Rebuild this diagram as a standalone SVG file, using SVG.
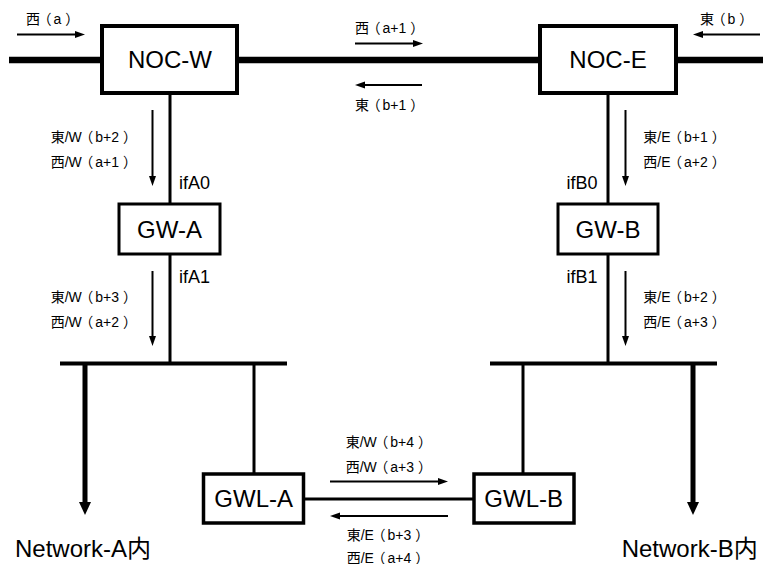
<svg xmlns="http://www.w3.org/2000/svg" width="763" height="564" viewBox="0 0 763 564">
  <style>
    .box { fill: #fff; stroke: #000; }
    .name { font-family: "Liberation Sans", Arial, sans-serif; font-size: 24px; text-anchor: middle; fill: #000; }
    .ifc { font-family: "Liberation Sans", Arial, sans-serif; font-size: 18px; fill: #000; }
    .lbl { font-family: "Liberation Sans", Arial, "Noto Sans CJK JP", sans-serif; font-size: 14px; fill: #000; }
    .net { font-family: "Liberation Sans", Arial, "Noto Sans CJK JP", sans-serif; font-size: 24px; fill: #000; }
    .wire { stroke: #000; fill: none; }
    .flow { stroke: #000; stroke-width: 2; fill: none; marker-end: url(#head); }
  </style>
  <defs>
    <marker id="head" markerUnits="userSpaceOnUse" markerWidth="10" markerHeight="8" refX="0" refY="3.5" orient="auto">
      <path d="M0,0 L10,3.5 L0,7 z" fill="#000"/>
    </marker>
    <marker id="bighead" markerUnits="userSpaceOnUse" markerWidth="13" markerHeight="12" refX="0" refY="6" orient="auto">
      <path d="M0,0 L13,6 L0,12 z" fill="#000"/>
    </marker>
  </defs>
  <rect width="763" height="564" fill="#fff"/>

  <g id="connectors">
    <!-- backbone -->
    <line class="wire" x1="9" y1="60" x2="763" y2="60" stroke-width="6.5"/>
    <!-- NOC to gateway to LAN verticals -->
    <line class="wire" x1="170" y1="93" x2="170" y2="363" stroke-width="3"/>
    <line class="wire" x1="608" y1="93" x2="608" y2="363" stroke-width="3"/>
    <!-- LAN buses -->
    <line class="wire" x1="60" y1="363.5" x2="287" y2="363.5" stroke-width="4"/>
    <line class="wire" x1="490" y1="363.5" x2="717" y2="363.5" stroke-width="4"/>
    <!-- drops to local gateways -->
    <line class="wire" x1="254" y1="363" x2="254" y2="474" stroke-width="3"/>
    <line class="wire" x1="523" y1="363" x2="523" y2="474" stroke-width="3"/>
    <!-- local gateway link -->
    <line class="wire" x1="305" y1="499" x2="474" y2="499" stroke-width="3"/>
    <!-- into the networks -->
    <line class="wire" x1="85" y1="363" x2="85" y2="502" stroke-width="5" marker-end="url(#bighead)"/>
    <line class="wire" x1="693" y1="363" x2="693" y2="502" stroke-width="5" marker-end="url(#bighead)"/>
    <!-- traffic direction arrows -->
    <line class="flow" x1="17" y1="34.5" x2="75" y2="34.5"/>
    <line class="flow" x1="760" y1="34.5" x2="703" y2="34.5"/>
    <line class="flow" x1="355" y1="43.5" x2="413" y2="43.5"/>
    <line class="flow" x1="422" y1="85" x2="365" y2="85"/>
    <line class="flow" x1="152.5" y1="110" x2="152.5" y2="176"/>
    <line class="flow" x1="152.5" y1="271" x2="152.5" y2="336"/>
    <line class="flow" x1="625.5" y1="110" x2="625.5" y2="176"/>
    <line class="flow" x1="625.5" y1="271" x2="625.5" y2="336"/>
    <line class="flow" x1="330" y1="481.5" x2="438" y2="481.5"/>
    <line class="flow" x1="448" y1="516" x2="340" y2="516"/>
  </g>

  <g id="noc-w">
    <rect class="box" x="102" y="26" width="135" height="67" stroke-width="4"/>
    <text class="name" x="170" y="68.3">NOC-W</text>
  </g>
  <g id="noc-e">
    <rect class="box" x="540" y="26" width="136" height="67" stroke-width="4"/>
    <text class="name" x="608" y="68.3">NOC-E</text>
  </g>
  <g id="gw-a">
    <rect class="box" x="119" y="204" width="101" height="50" stroke-width="3"/>
    <text class="name" x="169.5" y="237.7">GW-A</text>
  </g>
  <g id="gw-b">
    <rect class="box" x="558" y="204" width="100" height="50" stroke-width="3"/>
    <text class="name" x="608" y="237.7">GW-B</text>
  </g>
  <g id="gwl-a">
    <rect class="box" x="203.5" y="474" width="100" height="49" stroke-width="3.5"/>
    <text class="name" x="253.7" y="507.3">GWL-A</text>
  </g>
  <g id="gwl-b">
    <rect class="box" x="474" y="474" width="100" height="49" stroke-width="3.5"/>
    <text class="name" x="523.7" y="507.3">GWL-B</text>
  </g>

  <g id="interfaces">
    <text class="ifc" x="179" y="189.3">ifA0</text>
    <text class="ifc" x="179" y="282.7">ifA1</text>
    <text class="ifc" x="566.5" y="189.3">ifB0</text>
    <text class="ifc" x="566.5" y="282.7">ifB1</text>
  </g>

  <!-- per-glyph dx opens up the full-width brackets -->
  <g id="labels">
    <text class="lbl" x="26" y="23.5" dx="0 -2.5 2 4">西（a）</text>
    <text class="lbl" x="700" y="23.5" dx="0 -2.5 2 4">東（b）</text>
    <text class="lbl" x="355" y="32.5" dx="0 -2.5 2 0 0 4">西（a+1）</text>
    <text class="lbl" x="355" y="109.5" dx="0 -2.5 2 0 0 4">東（b+1）</text>
    <text class="lbl" x="50.7" y="142" dx="0 0 0 -2.5 2 0 0 4">東/W（b+2）</text>
    <text class="lbl" x="50.7" y="167.3" dx="0 0 0 -2.5 2 0 0 4">西/W（a+1）</text>
    <text class="lbl" x="50.7" y="302" dx="0 0 0 -2.5 2 0 0 4">東/W（b+3）</text>
    <text class="lbl" x="50.7" y="327.3" dx="0 0 0 -2.5 2 0 0 4">西/W（a+2）</text>
    <text class="lbl" x="643.3" y="142" dx="0 0 0 -2.5 2 0 0 4">東/E（b+1）</text>
    <text class="lbl" x="643.3" y="167.3" dx="0 0 0 -2.5 2 0 0 4">西/E（a+2）</text>
    <text class="lbl" x="643.3" y="302" dx="0 0 0 -2.5 2 0 0 4">東/E（b+2）</text>
    <text class="lbl" x="643.3" y="327.3" dx="0 0 0 -2.5 2 0 0 4">西/E（a+3）</text>
    <text class="lbl" x="345.7" y="446.5" dx="0 0 0 -2.5 2 0 0 4">東/W（b+4）</text>
    <text class="lbl" x="345.7" y="471.5" dx="0 0 0 -2.5 2 0 0 4">西/W（a+3）</text>
    <text class="lbl" x="346.7" y="539.8" dx="0 0 0 -2.5 2 0 0 4">東/E（b+3）</text>
    <text class="lbl" x="346.7" y="562.8" dx="0 0 0 -2.5 2 0 0 4">西/E（a+4）</text>
  </g>

  <g id="networks">
    <text class="net" x="15" y="557">Network-A内</text>
    <text class="net" x="621.7" y="557">Network-B内</text>
  </g>
</svg>
